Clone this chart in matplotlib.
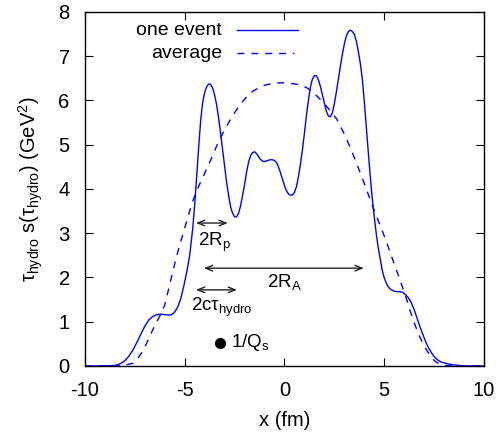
import matplotlib
matplotlib.use("Agg")
import matplotlib.pyplot as plt
from matplotlib.lines import Line2D

plt.rcParams['font.family'] = ['Liberation Sans', 'DejaVu Sans']
plt.rcParams['mathtext.fontset'] = 'custom'
plt.rcParams['mathtext.rm'] = 'Liberation Sans'
plt.rcParams['mathtext.it'] = 'Liberation Sans'
plt.rcParams['mathtext.sf'] = 'Liberation Sans'
plt.rcParams['axes.unicode_minus'] = False

# one event
event_x = [-10, -9.0, -8.6, -8.4, -8.2, -8.0, -7.8, -7.6, -7.4, -7.2, -7.0, -6.8, -6.6, -6.4,
           -6.2, -6.0, -5.8, -5.65, -5.5, -5.35, -5.2, -5.05, -4.9, -4.75, -4.6, -4.49, -4.4,
           -4.3, -4.2, -4.1, -4.0, -3.9, -3.8, -3.7, -3.6, -3.5, -3.4, -3.3, -3.2, -3.1, -3.0,
           -2.9, -2.8, -2.7, -2.6, -2.5, -2.4, -2.3, -2.2, -2.1, -2.0, -1.9, -1.8, -1.7, -1.6,
           -1.5, -1.4, -1.3, -1.2, -1.1, -1.0, -0.9, -0.8, -0.7, -0.6, -0.5, -0.4, -0.3, -0.2,
           -0.1, 0.0, 0.1, 0.2, 0.3, 0.4, 0.5, 0.6, 0.7, 0.8, 0.9, 1.0, 1.1, 1.2, 1.3, 1.4,
           1.5, 1.6, 1.7, 1.8, 1.9, 2.0, 2.1, 2.2, 2.3, 2.4, 2.5, 2.6, 2.7, 2.8, 2.9, 3.0,
           3.1, 3.2, 3.3, 3.4, 3.5, 3.6, 3.7, 3.8, 3.9, 4.0, 4.1, 4.2, 4.3, 4.4, 4.5, 4.6,
           4.7, 4.8, 4.9, 5.0, 5.1, 5.2, 5.3, 5.45, 5.6, 5.75, 5.9, 6.05, 6.2, 6.35, 6.5,
           6.65, 6.8, 6.95, 7.1, 7.25, 7.4, 7.55, 7.7, 7.85, 8.0, 8.2, 8.4, 8.6, 9.0, 10]
event_y = [0, 0, 0.01, 0.02, 0.06, 0.12, 0.22, 0.36, 0.53, 0.72, 0.9, 1.04, 1.12, 1.16,
           1.17, 1.16, 1.15, 1.16, 1.22, 1.33, 1.52, 1.8, 2.12, 2.5, 3.1, 3.7, 4.3,
           4.95, 5.55, 5.95, 6.18, 6.31, 6.37, 6.36, 6.28, 6.12, 5.9, 5.6, 5.25, 4.88, 4.5,
           4.15, 3.85, 3.6, 3.45, 3.37, 3.37, 3.45, 3.62, 3.85, 4.1, 4.38, 4.6, 4.75, 4.82,
           4.84, 4.8, 4.73, 4.67, 4.63, 4.62, 4.63, 4.65, 4.66, 4.66, 4.64, 4.6, 4.5, 4.37,
           4.22, 4.08, 3.96, 3.89, 3.86, 3.86, 3.92, 4.05, 4.27, 4.56, 4.88, 5.25, 5.65, 6.0,
           6.3, 6.48, 6.56, 6.56, 6.47, 6.32, 6.13, 5.93, 5.76, 5.65, 5.63, 5.72, 5.92, 6.18,
           6.47, 6.76, 7.03, 7.27, 7.45, 7.55, 7.59, 7.56, 7.5, 7.35, 7.12, 6.85, 6.5, 6.0,
           5.42, 4.85, 4.3, 3.8, 3.38, 3.0, 2.68, 2.42, 2.17, 2.0, 1.88, 1.79, 1.74, 1.7,
           1.68, 1.68, 1.67, 1.62, 1.55, 1.44, 1.28, 1.08, 0.88, 0.7, 0.53, 0.39, 0.28, 0.19,
           0.13, 0.09, 0.07, 0.05, 0.03, 0.02, 0, 0]

# average
avg_x = [-10, -8.6, -8.2, -7.9, -7.6, -7.4, -7.2, -7.0, -6.8, -6.6, -6.4, -6.2, -6.0, -5.8,
         -5.6, -5.4, -5.2, -5.0, -4.8, -4.6, -4.4, -4.2, -4.0, -3.7, -3.4, -3.07, -2.8, -2.5,
         -2.2, -1.9, -1.58, -1.1, -0.58, 0.0, 0.43, 0.8, 1.11, 1.45, 1.78, 2.2, 2.62, 3.05,
         3.45, 3.9, 4.29, 4.6, 4.85, 5.12, 5.35, 5.55, 5.75, 5.95, 6.15, 6.3, 6.45, 6.62,
         6.8, 6.95, 7.1, 7.2, 7.4, 7.63, 7.85, 8.1, 8.5, 10]
avg_y = [0, 0, 0.01, 0.03, 0.06, 0.14, 0.27, 0.43, 0.62, 0.82, 1.0, 1.17, 1.38, 1.75,
         2.13, 2.49, 2.81, 3.12, 3.43, 3.72, 3.96, 4.16, 4.35, 4.65, 4.97, 5.28, 5.5, 5.72,
         5.92, 6.08, 6.21, 6.33, 6.39, 6.4, 6.38, 6.35, 6.29, 6.18, 6.03, 5.82, 5.58, 5.2,
         4.77, 4.25, 3.77, 3.4, 3.12, 2.8, 2.5, 2.25, 2.0, 1.74, 1.47, 1.25, 1.05, 0.84,
         0.64, 0.5, 0.38, 0.31, 0.17, 0.08, 0.03, 0.01, 0, 0]

x_ticks = [-10, -5, 0, 5, 10]
y_ticks = [0, 1, 2, 3, 4, 5, 6, 7, 8]

# annotations: (x_start, x_end, y)
arrow_rp = (-4.44, -2.84, 3.23)
arrow_ra = (-4.04, 3.98, 2.21)
arrow_ctau = (-4.44, -2.38, 1.72)
qs_point = (-3.23, 0.52)

fig = plt.figure(figsize=(5.03, 4.42), dpi=100)
ax = fig.add_axes([0.169, 0.172, 0.793, 0.801])

blue = '#0000ff'
ax.plot(event_x, event_y, color=blue, lw=1.0)
ax.plot(avg_x, avg_y, color=blue, lw=1.0, dashes=(5, 5))

ax.set_xlim(-10, 10)
ax.set_ylim(0, 8)
ax.set_xticks(x_ticks)
ax.set_yticks(y_ticks)
ax.tick_params(direction='in', length=6, width=0.8, top=True, right=True,
               labelsize=14.5, colors='black', pad=11)
for s in ax.spines.values():
    s.set_linewidth(1.0)

ax.set_xlabel('x (fm)', fontsize=14.5, labelpad=8)
ax.set_ylabel(r'$\mathregular{\tau_{hydro}\ s(\tau_{hydro})\ (GeV^2)}$', fontsize=14.5, labelpad=10)

arrowprops = dict(arrowstyle='<->,head_length=0.5,head_width=0.2', color='#222222', lw=1.0,
                  shrinkA=0, shrinkB=0)
for (x0, x1, y) in [arrow_rp, arrow_ra, arrow_ctau]:
    ax.annotate('', xy=(x1, y), xytext=(x0, y), arrowprops=arrowprops)

ax.text(-3.53, 2.8, r'$\mathregular{2R_p}$', fontsize=13.5, ha='center', va='center')
ax.text(0.0, 1.9, r'$\mathregular{2R_A}$', fontsize=13.5, ha='center', va='center')
ax.text(-3.15, 1.33, r'$\mathregular{2c\tau_{hydro}}$', fontsize=13.5, ha='center', va='center')
ax.plot([qs_point[0]], [qs_point[1]], 'o', color='black', ms=7)
ax.text(qs_point[0] + 0.55, qs_point[1], r'$\mathregular{1/Q_s}$', fontsize=13.5,
        ha='left', va='center')

# legend drawn manually (gnuplot style)
ax.text(0.343, 0.948, 'one event', transform=ax.transAxes, fontsize=14, ha='right', va='center')
ax.text(0.343, 0.884, 'average', transform=ax.transAxes, fontsize=14, ha='right', va='center')
ax.add_line(Line2D([0.381, 0.533], [0.948, 0.948], transform=ax.transAxes, color=blue, lw=1.0))
ax.add_line(Line2D([0.381, 0.523], [0.884, 0.884], transform=ax.transAxes, color=blue, lw=1.0,
                   dashes=(5, 5)))

fig.savefig('out.png', dpi=100)
